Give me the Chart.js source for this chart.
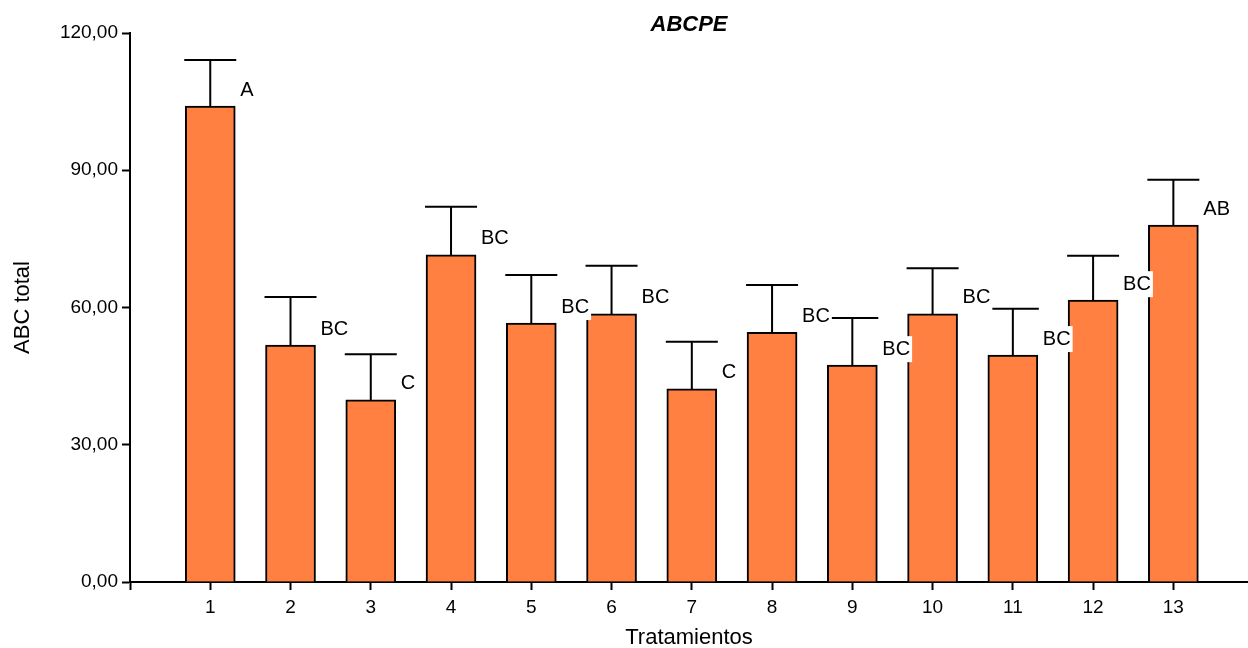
<!DOCTYPE html>
<html>
<head>
<meta charset="utf-8">
<script src="https://cdn.jsdelivr.net/npm/chart.js@4.4.1/dist/chart.umd.min.js"></script>
<style>
  body { margin: 0; background: #fff; }
  canvas { display: block; }
</style>
</head>
<body>
<canvas id="chart" width="1248" height="648"></canvas>
<script>
var tratamientos = [1, 2, 3, 4, 5, 6, 7, 8, 9, 10, 11, 12, 13];
var medias = [104.0, 51.8, 39.8, 71.5, 56.6, 58.6, 42.2, 54.6, 47.4, 58.6, 49.6, 61.6, 78.0];
var errores = [10.1, 10.5, 10.0, 10.5, 10.5, 10.5, 10.3, 10.3, 10.3, 10.0, 10.1, 9.7, 9.9];
var letras = ['A', 'BC', 'C', 'BC', 'BC', 'BC', 'C', 'BC', 'BC', 'BC', 'BC', 'BC', 'AB'];
var yTicks = [0, 30, 60, 90, 120];

var fuente = 'Liberation Sans, Arial, sans-serif';

//Error bars, letters and title.
var extras = {
	id: 'extras',
	afterDatasetsDraw: function(chart) {
		var ctx = chart.ctx;
		var xs = chart.scales.x;
		var ys = chart.scales.y;
		ctx.save();

		// error bars (upper only)
		ctx.strokeStyle = '#000';
		ctx.lineWidth = 2;
		for (var i = 0; i < medias.length; ++i) {
			var x = xs.getPixelForValue(tratamientos[i]);
			var y0 = ys.getPixelForValue(medias[i]);
			var y1 = ys.getPixelForValue(medias[i] + errores[i]);
			ctx.beginPath();
			ctx.moveTo(x, y0);
			ctx.lineTo(x, y1);
			ctx.moveTo(x - 26, y1);
			ctx.lineTo(x + 26, y1);
			ctx.stroke();
		}

		// letters with white box
		ctx.font = '20px ' + fuente;
		ctx.textBaseline = 'middle';
		ctx.textAlign = 'left';
		for (var j = 0; j < medias.length; ++j) {
			var lx = xs.getPixelForValue(tratamientos[j]) + 25 + 5;
			var ly = ys.getPixelForValue(medias[j]) - 16;
			var w = ctx.measureText(letras[j]).width;
			ctx.fillStyle = '#fff';
			ctx.fillRect(lx - 1, ly - 13, w + 3, 26);
			ctx.fillStyle = '#000';
			ctx.fillText(letras[j], lx, ly);
		}

		// title
		var area = chart.chartArea;
		ctx.font = 'italic bold 22px ' + fuente;
		ctx.textAlign = 'center';
		ctx.fillText('ABCPE', (area.left + area.right) / 2, 25);
		ctx.restore();
	}
};

var puntos = [];
for (var k = 0; k < tratamientos.length; ++k) {
	puntos.push({ x: tratamientos[k], y: medias[k] });
}

var chart = new Chart(document.getElementById('chart'), {
	type: 'bar',
	data: {
		datasets: [{
			label: 'ABC total',
			data: puntos,
			backgroundColor: '#ff8040',
			borderColor: '#000',
			borderWidth: 2,
			barThickness: 50
		}]
	},
	options: {
		responsive: false,
		animation: false,
		events: [],
		layout: { padding: { top: 33, right: 0, left: 0, bottom: 0 } },
		plugins: {
			legend: { display: false },
			tooltip: { enabled: false }
		},
		scales: {
			x: {
				type: 'linear',
				offset: false,
				min: 0,
				max: 13.93,
				afterBuildTicks: function(scale) {
					scale.ticks = [0].concat(tratamientos).map(function(v) { return { value: v }; });
				},
				afterFit: function(scale) { scale.height = 66; },
				ticks: {
					autoSkip: false,
					maxRotation: 0,
					padding: 6,
					color: '#000',
					font: { family: fuente, size: 19 },
					callback: function(v) { return v === 0 ? '' : String(v); }
				},
				grid: { offset: false, drawOnChartArea: false, drawTicks: true, tickLength: 8, tickColor: '#000', tickWidth: 2 },
				border: { color: '#000', width: 2 },
				title: {
					display: true,
					text: 'Tratamientos',
					color: '#000',
					font: { family: fuente, size: 22 },
					padding: { top: 0, bottom: -3 }
				}
			},
			y: {
				min: 0,
				max: 120,
				afterBuildTicks: function(scale) {
					scale.ticks = yTicks.map(function(v) { return { value: v }; });
				},
				afterFit: function(scale) { scale.width = 130; },
				ticks: {
					padding: 4,
					color: '#000',
					font: { family: fuente, size: 19 },
					callback: function(v) { return v.toFixed(2).replace('.', ','); }
				},
				grid: { drawOnChartArea: false, drawTicks: true, tickLength: 8, tickColor: '#000', tickWidth: 2 },
				border: { color: '#000', width: 2 },
				title: {
					display: true,
					text: 'ABC total',
					color: '#000',
					font: { family: fuente, size: 22 },
					padding: { top: 10, bottom: 0 }
				}
			}
		}
	},
	plugins: [extras]
});
</script>
</body>
</html>
